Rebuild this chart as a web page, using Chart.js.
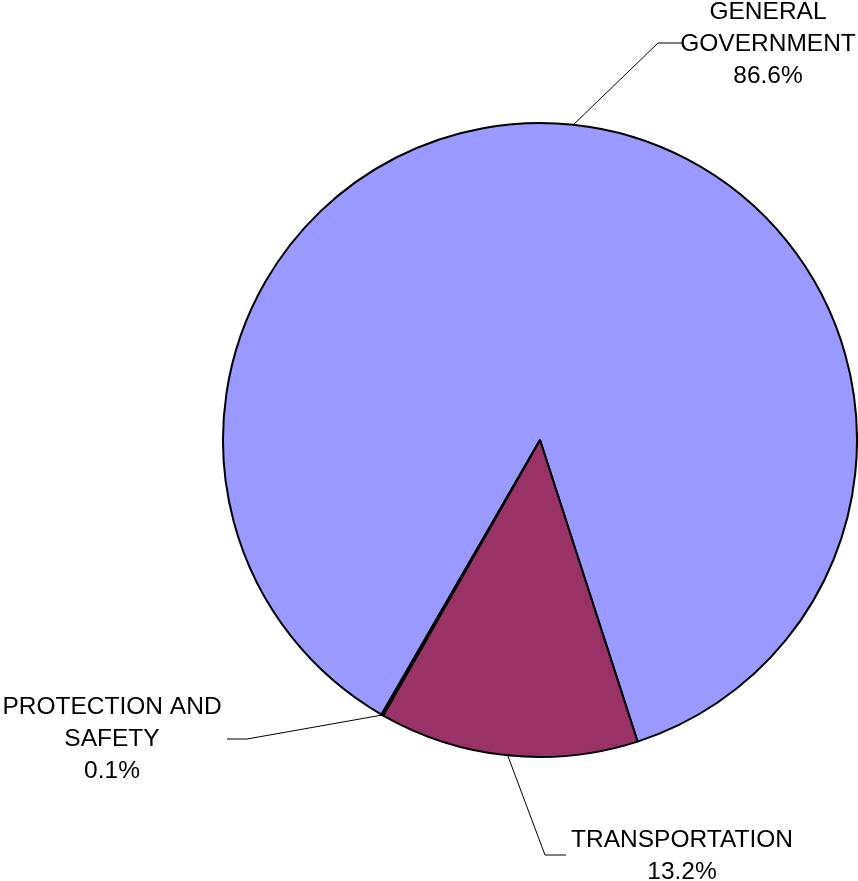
<!DOCTYPE html>
<html>
<head>
<meta charset="utf-8">
<script src="https://cdn.jsdelivr.net/npm/chart.js@4.4.1/dist/chart.umd.min.js"></script>
<style>
    html, body { margin: 0; padding: 0; background: #ffffff; }
    #wrap { width: 858px; height: 881px; position: relative; }
</style>
</head>
<body>
<div id="wrap"><canvas id="pieChart"></canvas></div>
<script>
// data
const categories = ['GENERAL GOVERNMENT', 'TRANSPORTATION', 'PROTECTION AND SAFETY'];
const shares = [86.6, 13.2, 0.1];
const labelLines = [['GENERAL', 'GOVERNMENT'], ['TRANSPORTATION'], ['PROTECTION AND', 'SAFETY']];
const sliceColors = ['#9999FF', '#993366', '#FFFFCC'];

// where each label and its leader line go
const labelSpots = [
    { elbowX: 658, elbowY: 43, tailX: 682, textX: 768, textY: 12 },
    { elbowX: 545, elbowY: 855, tailX: 566, textX: 682, textY: 840 },
    { elbowX: 247, elbowY: 739, tailX: 227, textX: 112, textY: 707 }
];

// labels with leader lines, like the excel chart
const leaderLabels = {
    id: 'leaderLabels',
    afterDatasetsDraw(chart) {
        const ctx = chart.ctx;
        const arcs = chart.getDatasetMeta(0).data;
        ctx.save();
        arcs.forEach((arc, i) => {
            const spot = labelSpots[i];
            const mid = (arc.startAngle + arc.endAngle) / 2;
            const ax = arc.x + Math.cos(mid) * arc.outerRadius;
            const ay = arc.y + Math.sin(mid) * arc.outerRadius;

            ctx.strokeStyle = '#000000';
            ctx.lineWidth = 1;
            ctx.beginPath();
            ctx.moveTo(ax, ay);
            ctx.lineTo(spot.elbowX, spot.elbowY);
            ctx.lineTo(spot.tailX, spot.elbowY);
            ctx.stroke();

            const lines = labelLines[i].concat([shares[i].toFixed(1) + '%']);
            ctx.fillStyle = '#000000';
            ctx.font = '24.5px "Liberation Sans", Arial, sans-serif';
            ctx.textAlign = 'center';
            ctx.textBaseline = 'middle';
            lines.forEach((txt, k) => {
                ctx.fillText(txt, spot.textX, spot.textY + k * 32);
            });
        });
        ctx.restore();
    }
};

new Chart(document.getElementById('pieChart'), {
    type: 'pie',
    data: {
        labels: categories,
        datasets: [{
            data: shares,
            backgroundColor: sliceColors,
            borderColor: '#000000',
            borderWidth: 2
        }]
    },
    options: {
        responsive: true,
        maintainAspectRatio: false,
        animation: false,
        rotation: 210,
        layout: {
            padding: { left: 222, right: 0, top: 122, bottom: 123 }
        },
        plugins: {
            legend: { display: false },
            tooltip: { enabled: false }
        }
    },
    plugins: [leaderLabels]
});
</script>
</body>
</html>
